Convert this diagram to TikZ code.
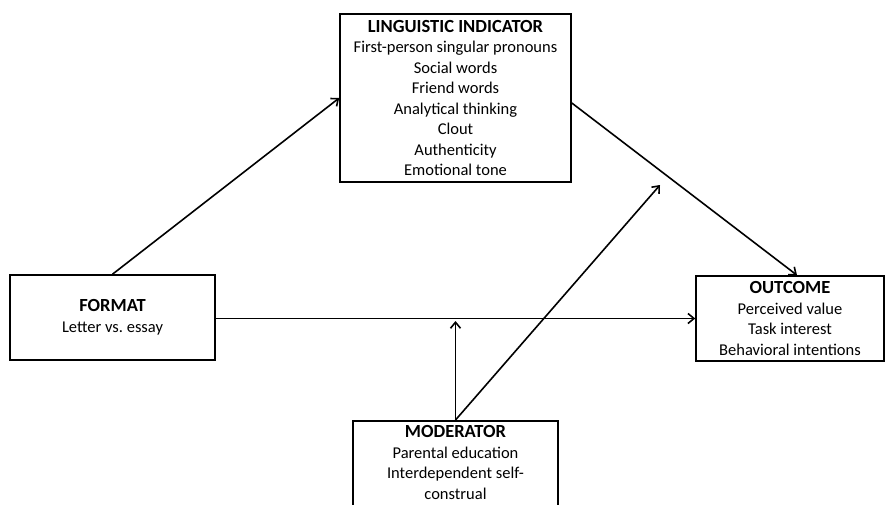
\documentclass[tikz,border=0pt]{standalone}
\usepackage{fontspec}
\setmainfont{Carlito}
\usetikzlibrary{arrows.meta}
\frenchspacing
\begin{document}
\begin{tikzpicture}[x=1pt,y=-1pt,
  box/.style={draw=black,line width=1.6pt,fill=white,align=center,inner sep=2pt,
    font=\fontsize{16.5}{20.5}\selectfont},
  ttl/.style={},
  conn/.style={line width=1.6pt,-{Straight Barb[length=6pt,width=10pt,line width=1.6pt]}}]
\newcommand{\bxtitle}[1]{{\fontsize{18.5}{21}\selectfont\bfseries #1}}
\useasboundingbox (0,0) rectangle (894,504);
\fill[white] (0,0) rectangle (894,504);
\node[box,minimum width=231pt,minimum height=168pt] (L) at (455.5,98)
  {\bxtitle{LINGUISTIC INDICATOR}\\First-person singular pronouns\\Social words\\Friend words\\Analytical thinking\\Clout\\Authenticity\\Emotional tone};
\node[box,minimum width=205pt,minimum height=85pt] (F) at (112.5,317.5)
  {\bxtitle{FORMAT}\\Letter vs. essay};
\node[box,minimum width=188pt,minimum height=85pt] (O) at (790,318.5)
  {\bxtitle{OUTCOME}\\Perceived value\\Task interest\\Behavioral intentions};
\begin{scope}
\clip (0,0) rectangle (894,504);
\node[box,minimum width=205pt,minimum height=100pt,anchor=north,text depth=0pt] (M) at (455.5,420)
  {\bxtitle{MODERATOR}\\Parental education\\Interdependent self-\\construal\\[-4pt]};
\end{scope}
\coordinate (mid) at (455.5,321);
\coordinate (tip) at (660,185);
\draw[conn] (F.north) -- (L.west);
\draw[conn] ([yshift=-5pt]L.east) -- ([xshift=7pt]O.north);
\draw[conn] (F.east |- O.west) -- (O.west);
\draw[conn] (M.north) -- (mid);
\draw[conn] (M.north) -- (tip);
\end{tikzpicture}
\end{document}
